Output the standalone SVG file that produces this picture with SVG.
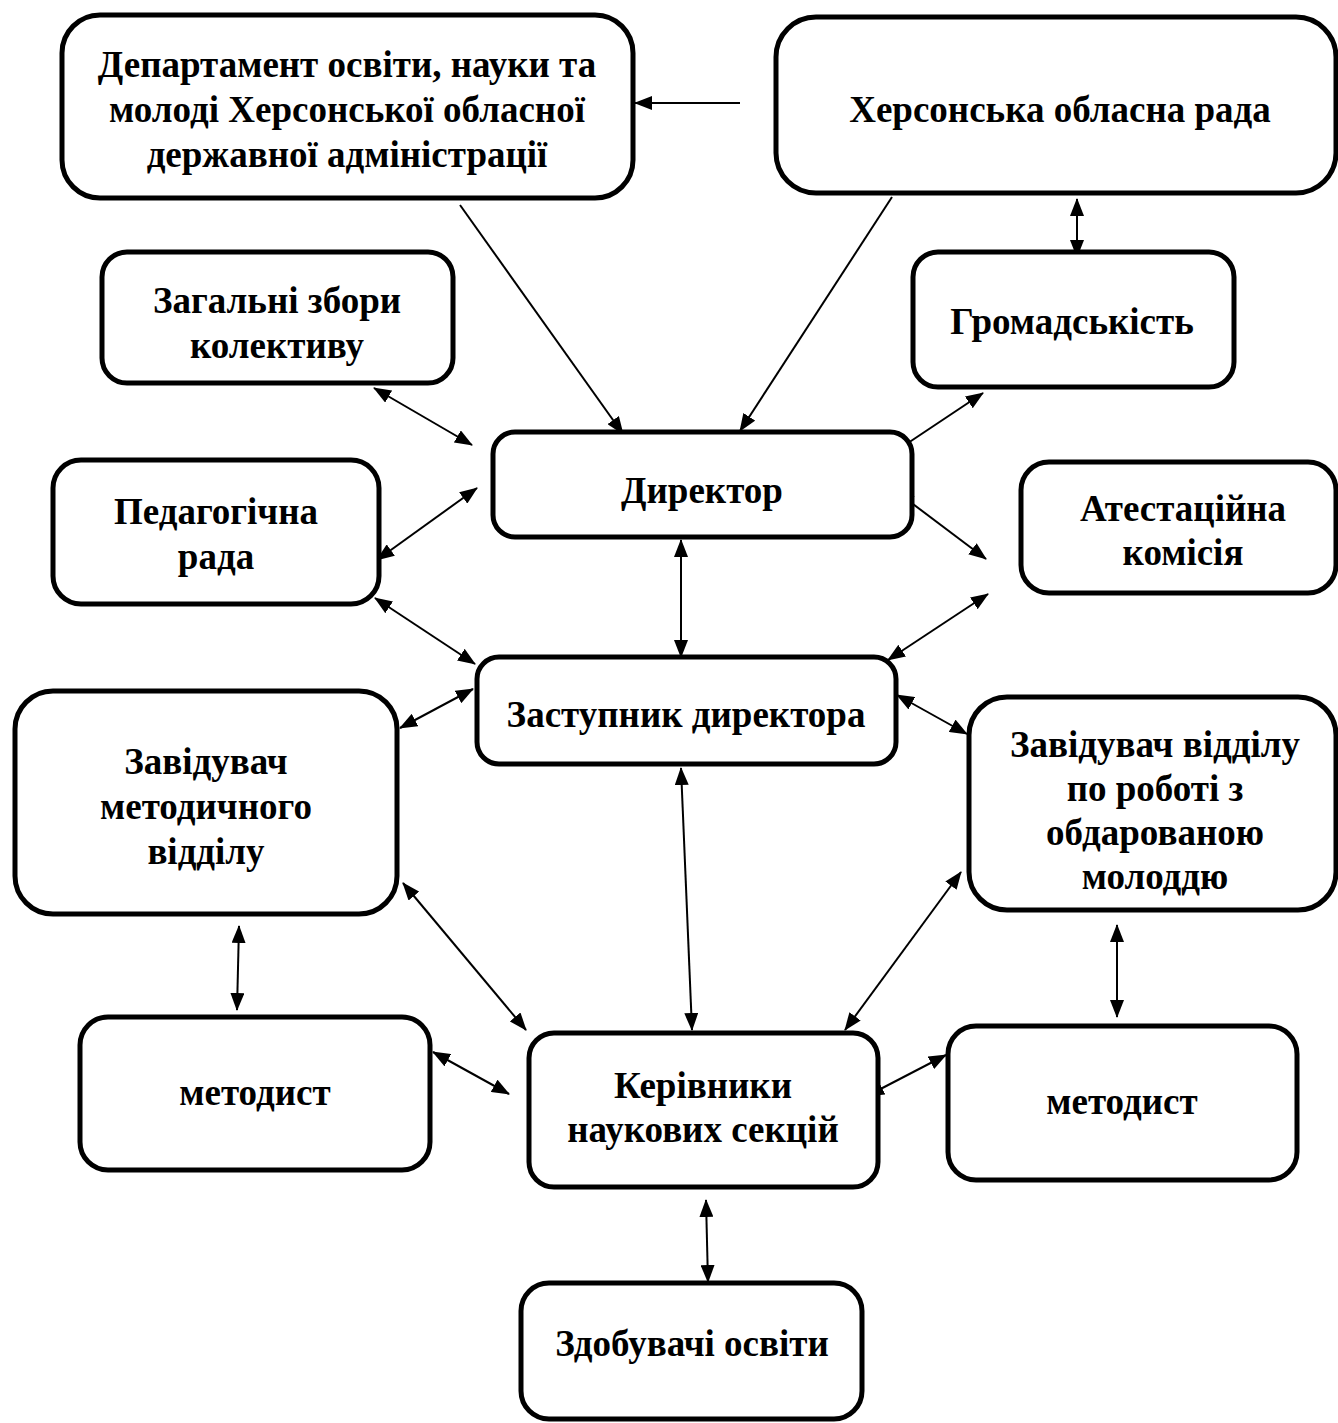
<svg xmlns="http://www.w3.org/2000/svg" width="1338" height="1423" viewBox="0 0 1338 1423">
<style>
.box{fill:#fff;stroke:#000;stroke-width:5}
.t{font-family:"Liberation Serif","Times New Roman",serif;font-weight:bold;font-size:37px;text-anchor:middle;fill:#000}
.c{stroke:#000;stroke-width:2;fill:none}
.one{marker-end:url(#ah)}
.two{marker-start:url(#ah);marker-end:url(#ah)}
</style>
<defs>
<marker id="ah" markerUnits="userSpaceOnUse" markerWidth="18" markerHeight="14" refX="17" refY="7" orient="auto-start-reverse" viewBox="0 0 18 14">
<path d="M0,0 L18,7 L0,14 Z" fill="#000"/>
</marker>
</defs>
<rect width="1338" height="1423" fill="#fff"/>
<g id="connectors">
<line class="c one" x1="740" y1="103" x2="635" y2="103"/>
<line class="c one" x1="460" y1="205" x2="623" y2="434"/>
<line class="c one" x1="892" y1="197" x2="740" y2="431"/>
<line class="c two" x1="1077" y1="199" x2="1077" y2="257"/>
<line class="c two" x1="374" y1="388" x2="472" y2="445"/>
<line class="c two" x1="983" y1="393" x2="893" y2="453"/>
<line class="c two" x1="377" y1="560" x2="477" y2="488"/>
<line class="c two" x1="897" y1="492" x2="986" y2="559"/>
<line class="c two" x1="681" y1="540" x2="681" y2="657"/>
<line class="c two" x1="375" y1="598" x2="475" y2="664"/>
<line class="c two" x1="988" y1="594" x2="888" y2="660"/>
<line class="c two" x1="400" y1="728" x2="473" y2="689"/>
<line class="c two" x1="897" y1="695" x2="967" y2="734"/>
<line class="c two" x1="681" y1="768" x2="692" y2="1030"/>
<line class="c two" x1="403" y1="883" x2="526" y2="1030"/>
<line class="c two" x1="961" y1="872" x2="845" y2="1030"/>
<line class="c two" x1="239" y1="926" x2="237" y2="1010"/>
<line class="c two" x1="1117" y1="925" x2="1117" y2="1017"/>
<line class="c two" x1="433" y1="1052" x2="509" y2="1094"/>
<line class="c two" x1="867" y1="1096" x2="946" y2="1055"/>
<line class="c two" x1="706" y1="1200" x2="708" y2="1282"/>
</g>
<g id="dept"><rect class="box" x="62" y="15" width="571" height="183" rx="38"/>
<text class="t" x="347" y="77">Департамент освіти, науки та</text>
<text class="t" x="347" y="122">молоді Херсонської обласної</text>
<text class="t" x="347" y="167">державної адміністрації</text></g>
<g id="kherson"><rect class="box" x="776" y="17" width="560" height="176" rx="40"/>
<text class="t" x="1060" y="122">Херсонська обласна рада</text></g>
<g id="zagalni"><rect class="box" x="102" y="252" width="351" height="131" rx="25"/>
<text class="t" x="277" y="313">Загальні збори</text>
<text class="t" x="277" y="358">колективу</text></g>
<g id="hromad"><rect class="box" x="913" y="252" width="321" height="135" rx="25"/>
<text class="t" x="1072" y="334">Громадськість</text></g>
<g id="dyrektor"><rect class="box" x="493" y="432" width="419" height="105" rx="22"/>
<text class="t" x="702" y="503">Директор</text></g>
<g id="pedrada"><rect class="box" x="53" y="460" width="326" height="144" rx="28"/>
<text class="t" x="216" y="524">Педагогічна</text>
<text class="t" x="216" y="569">рада</text></g>
<g id="atest"><rect class="box" x="1021" y="462" width="315" height="131" rx="28"/>
<text class="t" x="1183" y="521">Атестаційна</text>
<text class="t" x="1183" y="565">комісія</text></g>
<g id="zastupnyk"><rect class="box" x="477" y="657" width="419" height="107" rx="22"/>
<text class="t" x="686" y="727">Заступник директора</text></g>
<g id="zavmet"><rect class="box" x="15" y="691" width="382" height="223" rx="38"/>
<text class="t" x="206" y="774">Завідувач</text>
<text class="t" x="206" y="819">методичного</text>
<text class="t" x="206" y="864">відділу</text></g>
<g id="zavvid"><rect class="box" x="969" y="697" width="367" height="213" rx="38"/>
<text class="t" x="1155" y="757">Завідувач відділу</text>
<text class="t" x="1155" y="801">по роботі з</text>
<text class="t" x="1155" y="845">обдарованою</text>
<text class="t" x="1155" y="889">молоддю</text></g>
<g id="metodyst-left"><rect class="box" x="80" y="1017" width="350" height="153" rx="28"/>
<text class="t" x="255" y="1105">методист</text></g>
<g id="kerivnyky"><rect class="box" x="529" y="1033" width="349" height="154" rx="25"/>
<text class="t" x="703" y="1098">Керівники</text>
<text class="t" x="703" y="1142">наукових секцій</text></g>
<g id="metodyst-right"><rect class="box" x="948" y="1026" width="349" height="154" rx="28"/>
<text class="t" x="1122" y="1114">методист</text></g>
<g id="zdobuvachi"><rect class="box" x="521" y="1283" width="341" height="136" rx="28"/>
<text class="t" x="692" y="1356">Здобувачі освіти</text></g>
</svg>
